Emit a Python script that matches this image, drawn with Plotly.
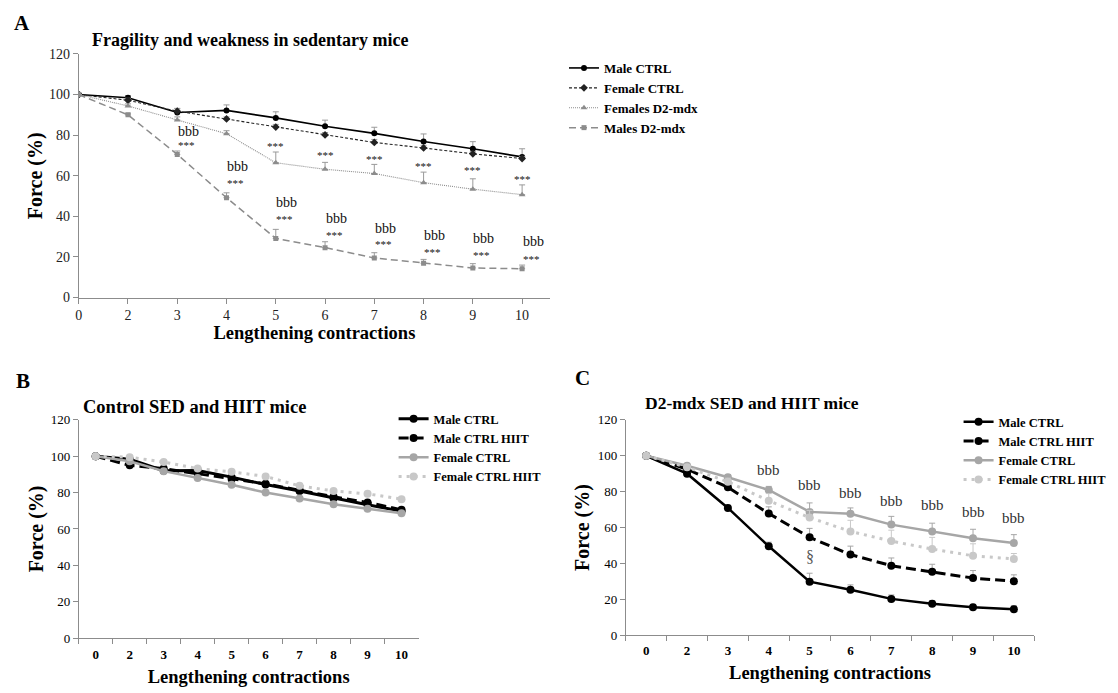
import plotly.graph_objects as go

# ---------------- data ----------------
contractions = ["0", "2", "3", "4", "5", "6", "7", "8", "9", "10"]

# Panel A: sedentary mice
a_male_ctrl = [100, 98.4, 91.2, 92.2, 88.5, 84.4, 80.9, 76.9, 73.3, 69.3]
a_male_ctrl_err = [0, 1.1, 2.0, 2.7, 3.0, 3.0, 3.0, 3.7, 3.5, 4.0]
a_female_ctrl = [100, 97.2, 91.8, 88.0, 84.0, 80.1, 76.4, 73.7, 70.8, 68.5]
a_female_ctrl_err = [0, 1.0, 1.2, 1.0, 1.3, 1.2, 1.5, 1.3, 1.2, 1.0]
a_females_mdx = [100, 94.4, 87.5, 80.7, 66.4, 63.2, 61.1, 56.6, 53.4, 50.7]
a_females_mdx_err = [0, 1.0, 1.5, 1.5, 5.3, 3.4, 4.5, 5.2, 5.1, 4.8]
a_males_mdx = [100, 90.0, 70.5, 49.2, 29.1, 24.6, 19.5, 16.9, 14.6, 14.2]
a_males_mdx_err = [0, 0.8, 1.7, 2.4, 4.5, 2.9, 2.6, 1.9, 2.1, 1.8]

# significance labels panel A (category, y value)
a_stars_upper = [("5", 74.6), ("6", 70.1), ("7", 68.2), ("8", 65.0), ("9", 62.6), ("10", 58.5)]
a_bbb = [("3", 81.8), ("4", 64.5), ("5", 46.7), ("6", 38.8), ("7", 34.2), ("8", 30.6), ("9", 29.0), ("10", 27.5)]
a_stars_lower = [("3", 75.0), ("4", 56.5), ("5", 38.8), ("6", 30.8), ("7", 26.3), ("8", 22.4), ("9", 21.2), ("10", 19.2)]

# Panel B: control SED and HIIT
b_male_ctrl = [100, 98.4, 92.0, 92.2, 88.5, 84.4, 80.9, 76.9, 73.3, 69.8]
b_male_ctrl_hiit = [100, 95.0, 93.2, 90.5, 87.5, 84.8, 81.3, 77.7, 74.6, 70.5]
b_female_ctrl = [100, 97.2, 91.8, 88.0, 84.3, 80.0, 76.8, 73.6, 71.1, 68.7]
b_female_ctrl_hiit = [100, 99.5, 96.8, 93.2, 91.4, 88.9, 83.7, 80.9, 79.3, 76.4]

# Panel C: D2-mdx SED and HIIT
c_male = [100, 90.0, 70.9, 49.5, 29.8, 25.3, 20.2, 17.5, 15.5, 14.4]
c_male_err = [0, 0.8, 1.5, 2.3, 4.7, 2.7, 2.2, 1.8, 1.6, 2.0]
c_male_hiit = [100, 92.5, 82.4, 67.8, 54.5, 44.9, 38.7, 35.3, 31.8, 30.0]
c_male_hiit_err = [0, 1.0, 1.5, 3.7, 5.0, 4.7, 4.3, 4.2, 4.2, 3.6]
c_female = [100, 94.4, 88.0, 80.9, 68.7, 67.6, 61.6, 57.8, 54.0, 51.3]
c_female_err = [0, 1.0, 1.5, 2.0, 5.0, 3.3, 4.6, 4.6, 5.0, 4.7]
c_female_hiit = [100, 93.6, 85.5, 74.9, 65.5, 57.8, 52.4, 48.0, 44.2, 42.5]
c_female_hiit_err = [0, 1.0, 2.0, 4.0, 4.0, 6.2, 6.1, 6.5, 6.7, 3.0]
c_bbb = [("4", 91.8), ("5", 83.5), ("6", 79.0), ("7", 75.0), ("8", 72.7), ("9", 68.9), ("10", 65.5)]
c_section = [("5", 43.6)]

yticks = [0, 20, 40, 60, 80, 100, 120]

SERIF = "Liberation Serif, Times New Roman, serif"
W, H = 1118, 693


def px_x(p):
    return p / W


def px_y(p):
    return 1 - p / H


def cat_index(cat):
    return contractions.index(cat)


fig = go.Figure()


def add_line(x_ax, y_ax, legend, name, y, color, dash, width, symbol, msize, err=None, errcolor="#9a9a9a"):
    kw = {}
    if err is not None:
        kw["error_y"] = dict(type="data", array=err, arrayminus=[0] * len(err), symmetric=False,
                             color=errcolor, thickness=1, width=3)
    fig.add_trace(go.Scatter(
        x=contractions, y=y, name="<b>%s</b>" % name, mode="lines+markers",
        line=dict(color=color, dash=dash, width=width),
        marker=dict(color=color, symbol=symbol, size=msize),
        xaxis=x_ax, yaxis=y_ax, legend=legend, **kw))


# Panel A
add_line("x", "y", "legend", "Male CTRL", a_male_ctrl, "#000000", "solid", 1.6, "circle", 6, a_male_ctrl_err)
add_line("x", "y", "legend", "Female CTRL", a_female_ctrl, "#222222", "3px,2px", 1.1, "diamond", 6, a_female_ctrl_err)
add_line("x", "y", "legend", "Females D2-mdx", a_females_mdx, "#8c8c8c", "1px,1px", 1.1, "triangle-up", 6, a_females_mdx_err)
add_line("x", "y", "legend", "Males D2-mdx", a_males_mdx, "#8c8c8c", "7px,4px", 1.5, "square", 5, a_males_mdx_err)

# Panel B
add_line("x2", "y2", "legend2", "Male CTRL", b_male_ctrl, "#000000", "solid", 3, "circle", 8)
add_line("x2", "y2", "legend2", "Male CTRL HIIT", b_male_ctrl_hiit, "#000000", "10px,5px", 3, "circle", 8)
add_line("x2", "y2", "legend2", "Female CTRL", b_female_ctrl, "#a6a6a6", "solid", 2.5, "circle", 8)
add_line("x2", "y2", "legend2", "Female CTRL HIIT", b_female_ctrl_hiit, "#c8c8c8", "3px,5px", 3, "circle", 8)

# Panel C
add_line("x3", "y3", "legend3", "Male CTRL", c_male, "#000000", "solid", 2.5, "circle", 8, c_male_err, "#a6a6a6")
add_line("x3", "y3", "legend3", "Male CTRL HIIT", c_male_hiit, "#000000", "10px,5px", 3, "circle", 8, c_male_hiit_err, "#a6a6a6")
add_line("x3", "y3", "legend3", "Female CTRL", c_female, "#a6a6a6", "solid", 2.5, "circle", 8, c_female_err, "#a6a6a6")
add_line("x3", "y3", "legend3", "Female CTRL HIIT", c_female_hiit, "#c8c8c8", "3px,5px", 3, "circle", 8, c_female_hiit_err, "#c8c8c8")

annotations = []


def note(xref, yref, x, y, text, size, color="#000000", bold=False, xshift=0, xanchor="center"):
    annotations.append(dict(xref=xref, yref=yref, x=x, y=y, text=("<b>%s</b>" % text) if bold else text,
                            showarrow=False, xshift=xshift, xanchor=xanchor, yanchor="middle",
                            font=dict(family=SERIF, size=size, color=color)))


for cat, v in a_stars_upper:
    note("x", "y", cat_index(cat), v, "***", 11, "#111111")
for cat, v in a_bbb:
    note("x", "y", cat_index(cat), v, "bbb", 14, "#111111", xshift=11)
for cat, v in a_stars_lower:
    note("x", "y", cat_index(cat), v, "***", 11, "#111111", xshift=9)
for cat, v in c_bbb:
    note("x3", "y3", cat_index(cat), v, "bbb", 15, "#333333")
for cat, v in c_section:
    note("x3", "y3", cat_index(cat), v, "§", 16, "#555555")

# panel letters and titles
note("paper", "paper", px_x(8), px_y(16), "A", 21, bold=True, xanchor="left")
note("paper", "paper", px_x(86), px_y(34), "Fragility and weakness in sedentary mice", 18, bold=True, xanchor="left")
note("paper", "paper", px_x(10), px_y(382), "B", 21, bold=True, xanchor="left")
note("paper", "paper", px_x(77), px_y(409), "Control SED and HIIT mice", 18.5, bold=True, xanchor="left")
note("paper", "paper", px_x(571), px_y(379), "C", 21, bold=True, xanchor="left")
note("paper", "paper", px_x(641), px_y(405), "D2-mdx SED and HIIT mice", 17.5, bold=True, xanchor="left")

axis_common = dict(showgrid=False, zeroline=False, showline=True, linecolor="#8c8c8c", linewidth=1,
                   ticks="outside", ticklen=5, tickcolor="#8c8c8c", type="category")

fig.update_layout(
    width=W, height=H, margin=dict(l=0, r=0, t=0, b=0),
    paper_bgcolor="white", plot_bgcolor="white",
    font=dict(family=SERIF, color="#000000"),
    annotations=annotations,
    xaxis=dict(axis_common, domain=[px_x(75), px_x(548)], range=[0, 9.567], anchor="y",
               tickfont=dict(family=SERIF, size=14, color="#222"),
               title=dict(text="<b>Lengthening contractions</b>", font=dict(family=SERIF, size=18.5), standoff=1)),
    yaxis=dict(axis_common, type="linear", domain=[px_y(297), px_y(48)], range=[0, 120], tickvals=yticks,
               anchor="x", tickfont=dict(family=SERIF, size=14, color="#222"),
               title=dict(text="<b>Force (%)</b>", font=dict(family=SERIF, size=20), standoff=0)),
    xaxis2=dict(axis_common, domain=[px_x(75), px_x(416)], range=[-0.5, 9.5], anchor="y2", tickson="boundaries",
                tickfont=dict(family=SERIF, size=13), ticklabelstandoff=4,
                tickvals=contractions, ticktext=["<b>%s</b>" % c for c in contractions],
                title=dict(text="<b>Lengthening contractions</b>", font=dict(family=SERIF, size=18.5), standoff=9)),
    yaxis2=dict(axis_common, type="linear", domain=[px_y(645), px_y(422)], range=[0, 120], tickvals=yticks,
                anchor="x2", tickfont=dict(family=SERIF, size=13),
                tickprefix="<b>", ticksuffix="</b>",
                title=dict(text="<b>Force (%)</b>", font=dict(family=SERIF, size=20), standoff=1)),
    xaxis3=dict(axis_common, domain=[px_x(624), px_x(1034)], range=[-0.5, 9.5], anchor="y3", tickson="boundaries",
                tickfont=dict(family=SERIF, size=13), ticklabelstandoff=3,
                tickvals=contractions, ticktext=["<b>%s</b>" % c for c in contractions],
                title=dict(text="<b>Lengthening contractions</b>", font=dict(family=SERIF, size=18.5), standoff=9)),
    yaxis3=dict(axis_common, type="linear", domain=[px_y(642), px_y(422)], range=[0, 120], tickvals=yticks,
                anchor="x3", tickfont=dict(family=SERIF, size=13),
                tickprefix="<b>", ticksuffix="</b>",
                title=dict(text="<b>Force (%)</b>", font=dict(family=SERIF, size=20), standoff=2)),
    legend=dict(x=px_x(562), y=px_y(47), xanchor="left", yanchor="top", bgcolor="rgba(0,0,0,0)",
                font=dict(family=SERIF, size=13, color="#000"), tracegroupgap=0, itemwidth=30),
    legend2=dict(x=px_x(391), y=px_y(406), xanchor="left", yanchor="top", bgcolor="rgba(0,0,0,0)",
                 font=dict(family=SERIF, size=12.5, color="#000"), tracegroupgap=0, itemwidth=30),
    legend3=dict(x=px_x(958), y=px_y(409), xanchor="left", yanchor="top", bgcolor="rgba(0,0,0,0)",
                 font=dict(family=SERIF, size=12.5, color="#000"), tracegroupgap=0, itemwidth=30),
)

fig.write_html("out.html", config={"displayModeBar": False},
               post_script="document.body.style.margin='0px';")
